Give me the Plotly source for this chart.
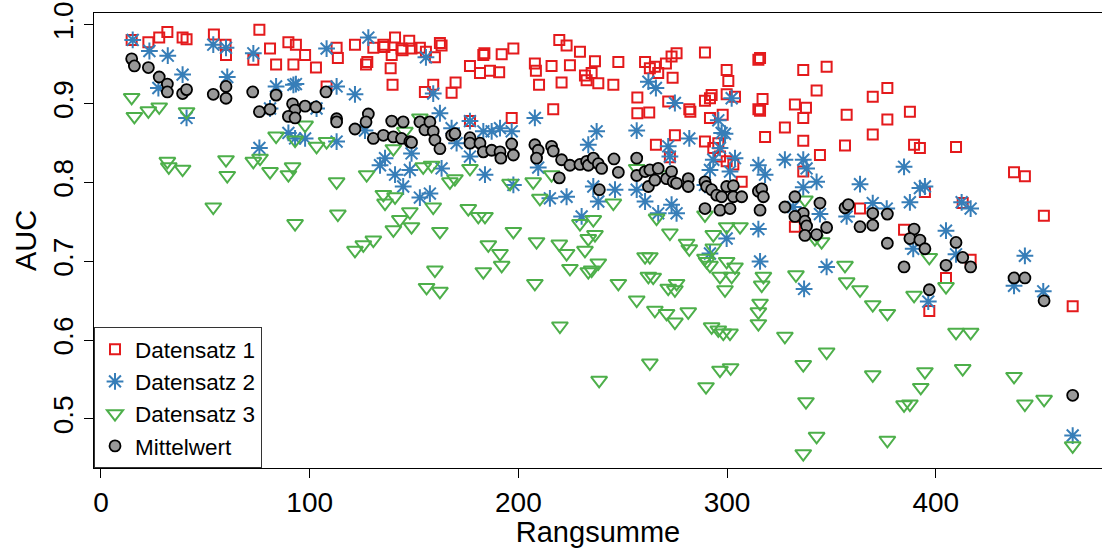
import plotly.graph_objects as go

# ---- Data ----
x_d1 = [14.7, 22.7, 27.9, 31.8, 39.1, 41.0, 54.1, 59.7, 59.9, 73.0, 75.9, 81.0, 83.9, 89.8, 92.2, 93.4, 97.8,
        103.0, 108.1, 112.9, 113.5,
        121.7, 127.0, 127.6, 130.5, 135.3, 135.8, 140.9, 139.3, 144.0, 144.5, 147.7, 148.8, 152.8, 155.7, 160.0,
        162.4, 163.2, 138.8, 139.7, 155.2, 159.2, 168.0, 169.9, 176.8, 181.6, 183.2, 183.7, 186.4, 190.8, 192.0,
        197.6, 196.8, 176.8, 207.9, 208.4, 209.9, 215.9, 216.7, 219.6, 223.1, 220.7, 224.7, 229.5, 231.9, 232.7,
        235.1, 236.7, 238.3,
        245.5, 247.9, 260.7, 263.0, 265.4, 267.0, 270.7, 273.4, 275.8, 273.9, 257.0, 257.0, 262.7, 271.8, 281.9,
        282.4, 289.4, 289.4, 292.6, 291.8, 299.8, 300.6, 299.8, 297.9, 291.8, 303.8, 315.0, 315.8, 315.0, 315.8,
        317.0, 318.2, 327.7, 332.5, 337.8, 336.5, 336.5, 336.5, 342.9, 347.7, 344.5, 336.5, 357.3, 356.5, 275.0,
        265.9, 272.6, 289.4, 293.4, 295.8, 299.8, 303.0, 307.0, 296.6, 332.5,
        369.8, 376.8, 376.8, 369.8, 387.6, 389.6, 392.4, 409.7, 437.5, 442.7, 451.8, 363.7, 384.8, 394.8, 412.9,
        416.7, 404.9, 396.9, 465.6]
y_d1 = [0.981, 0.978, 0.984, 0.991, 0.984, 0.982, 0.988, 0.975, 0.962, 0.956, 0.994, 0.970, 0.950, 0.978, 0.950,
        0.975, 0.962, 0.946, 0.922, 0.971, 0.958,
        0.975, 0.950, 0.953, 0.971, 0.975, 0.972, 0.984, 0.962, 0.970, 0.968, 0.980, 0.970, 0.971, 0.966, 0.959,
        0.977, 0.974, 0.945, 0.924, 0.915, 0.924, 0.914, 0.927, 0.948, 0.939, 0.962, 0.964, 0.942, 0.940, 0.963,
        0.970, 0.882, 0.878, 0.951, 0.942, 0.924, 0.948, 0.893, 0.981, 0.974, 0.927, 0.949, 0.966, 0.936, 0.930,
        0.939, 0.954, 0.926,
        0.924, 0.953, 0.953, 0.945, 0.947, 0.939, 0.951, 0.960, 0.964, 0.933, 0.908, 0.888, 0.889, 0.903, 0.893,
        0.890, 0.965, 0.904, 0.911, 0.907, 0.943, 0.929, 0.912, 0.886, 0.882, 0.909, 0.956, 0.958, 0.893, 0.891,
        0.906, 0.858, 0.870, 0.899, 0.895, 0.882, 0.853, 0.943, 0.917, 0.947, 0.835, 0.814, 0.886, 0.847, 0.860,
        0.848, 0.832, 0.852, 0.844, 0.850, 0.827, 0.823, 0.801, 0.833, 0.744,
        0.909, 0.920, 0.880, 0.861, 0.890, 0.848, 0.844, 0.845, 0.813, 0.808, 0.758, 0.767, 0.740, 0.788, 0.774,
        0.702, 0.679, 0.637, 0.643]

x_d2 = [15.2, 23.2, 32.0, 39.1, 27.5, 41.0, 53.8, 59.9, 60.5, 73.0, 83.9, 92.2, 93.4, 108.1, 112.9, 81.0, 89.8,
        97.8, 93.0, 75.9, 103.3, 112.9,
        128.1, 121.7, 155.7, 159.2, 162.4, 126.5, 136.1, 133.7, 140.9, 144.8, 148.0, 148.8, 152.8, 157.6, 163.2,
        168.0, 170.4, 176.8, 176.8, 184.0, 183.2, 187.2, 191.2, 196.8, 197.6, 207.9, 209.5, 215.1, 223.1, 230.3,
        233.5, 235.9, 237.5, 238.3,
        256.7, 262.3, 265.9, 275.0, 281.9, 271.8, 272.6, 246.3, 256.7, 260.7, 267.0, 273.4, 275.8, 295.8, 297.4,
        299.0, 296.6, 293.4, 291.8, 301.4, 303.8, 302.2, 315.0, 318.2, 315.0, 327.7, 336.5, 338.1, 342.9, 336.5,
        344.5, 331.7, 357.3, 299.8, 289.4, 291.8, 315.8, 336.9, 347.7,
        363.7, 384.8, 369.8, 376.5, 387.6, 392.4, 394.8, 412.4, 416.7, 404.9, 389.2, 409.7, 442.7, 437.5, 451.5,
        396.4, 465.6]
y_d2 = [0.981, 0.967, 0.961, 0.937, 0.920, 0.882, 0.975, 0.971, 0.934, 0.964, 0.922, 0.924, 0.925, 0.970, 0.922,
        0.894, 0.863, 0.856, 0.856, 0.844, 0.894, 0.852,
        0.984, 0.912, 0.959, 0.913, 0.888, 0.866, 0.831, 0.822, 0.810, 0.795, 0.816, 0.837, 0.781, 0.786, 0.818,
        0.869, 0.850, 0.878, 0.833, 0.810, 0.865, 0.865, 0.869, 0.865, 0.797, 0.882, 0.819, 0.780, 0.782, 0.757,
        0.848, 0.795, 0.865, 0.776,
        0.866, 0.928, 0.920, 0.901, 0.856, 0.846, 0.833, 0.791, 0.791, 0.776, 0.761, 0.772, 0.761, 0.879, 0.863,
        0.862, 0.844, 0.829, 0.816, 0.814, 0.831, 0.907, 0.822, 0.810, 0.741, 0.829, 0.829, 0.818, 0.801, 0.794,
        0.760, 0.769, 0.757, 0.729, 0.797, 0.710, 0.700, 0.665, 0.693,
        0.798, 0.820, 0.774, 0.767, 0.775, 0.793, 0.795, 0.775, 0.767, 0.739, 0.716, 0.709, 0.707, 0.669, 0.662,
        0.649, 0.479]

x_d3 = [14.7, 16.0, 22.7, 27.9, 41.0, 31.8, 32.5, 39.1, 59.9, 60.5, 73.0, 76.2, 81.0, 89.8, 91.8, 112.9, 53.8,
        93.0, 113.5, 83.9, 97.8, 93.0, 103.3, 108.1,
        152.8, 145.6, 140.1, 127.3, 135.3, 140.9, 136.1, 154.4, 158.4, 176.8, 167.2, 169.6, 159.2, 148.0, 143.2,
        140.1, 148.8, 162.4, 176.0, 180.8, 184.0, 196.0, 197.6, 207.1, 210.3, 215.9, 229.5, 235.9, 233.5, 130.5,
        125.7, 208.7, 219.6, 185.6, 121.7, 191.2, 192.0, 183.2, 223.1, 231.9, 224.7, 233.5, 238.3, 160.0, 156.0,
        162.4, 207.9, 219.9, 238.7,
        256.7, 245.5, 271.8, 236.7, 266.2, 272.6, 289.4, 299.8, 306.2, 293.4, 280.6, 337.3, 342.1, 235.1, 247.9,
        256.7, 260.7, 263.0, 262.3, 264.6, 271.8, 275.0, 275.8, 265.4, 271.0, 275.0, 281.4, 281.9, 290.2, 291.8,
        289.4, 293.4, 299.8, 303.8, 302.2, 296.6, 299.0, 292.6, 295.8, 298.2, 301.4, 317.4, 316.6, 315.8, 315.0,
        315.0, 327.7, 333.0, 356.5, 357.3, 347.7, 336.5, 263.0, 296.6, 301.7, 289.9, 337.8, 342.9, 336.5, 345.3,
        363.7, 369.8, 376.8, 396.9, 389.6, 404.9, 409.7, 416.7, 369.8, 394.8, 392.8, 384.8, 387.6, 412.9, 437.5,
        442.7, 451.9, 376.8, 465.6]
y_d3 = [0.908, 0.884, 0.891, 0.896, 0.890, 0.827, 0.820, 0.817, 0.829, 0.809, 0.827, 0.831, 0.814, 0.810, 0.820,
        0.801, 0.769, 0.748, 0.760, 0.859, 0.873, 0.854, 0.846, 0.852,
        0.882, 0.865, 0.843, 0.810, 0.785, 0.782, 0.774, 0.820, 0.822, 0.818, 0.801, 0.805, 0.769, 0.763, 0.753,
        0.740, 0.744, 0.738, 0.767, 0.757, 0.757, 0.799, 0.738, 0.801, 0.780, 0.810, 0.748, 0.753, 0.729, 0.727,
        0.721, 0.725, 0.722, 0.721, 0.714, 0.710, 0.695, 0.687, 0.710, 0.714, 0.691, 0.687, 0.698, 0.689, 0.667,
        0.662, 0.672, 0.618, 0.549,
        0.818, 0.774, 0.810, 0.734, 0.755, 0.736, 0.759, 0.744, 0.744, 0.734, 0.723, 0.778, 0.729, 0.689, 0.672,
        0.651, 0.706, 0.706, 0.681, 0.680, 0.666, 0.664, 0.672, 0.638, 0.634, 0.623, 0.636, 0.716, 0.700, 0.695,
        0.704, 0.717, 0.700, 0.693, 0.681, 0.681, 0.664, 0.617, 0.613, 0.609, 0.609, 0.681, 0.670, 0.647, 0.636,
        0.621, 0.605, 0.683, 0.695, 0.674, 0.585, 0.569, 0.571, 0.562, 0.565, 0.541, 0.522, 0.478, 0.456, 0.725,
        0.664, 0.645, 0.634, 0.705, 0.657, 0.668, 0.610, 0.610, 0.556, 0.560, 0.540, 0.518, 0.519, 0.564, 0.554,
        0.519, 0.525, 0.473, 0.466]

x_mean = [14.7, 16.0, 22.7, 27.9, 31.8, 31.8, 39.1, 41.0, 53.8, 59.9, 59.9, 72.7, 83.9, 75.9, 81.0, 91.8, 93.0,
          89.8, 93.0, 97.8, 103.0, 107.8, 112.9, 112.9,
          128.1, 127.0, 121.7, 130.5, 135.3, 139.3, 140.1, 144.0, 144.8, 148.0, 148.8, 152.8, 155.2, 157.6, 159.2,
          160.0, 162.4, 168.0, 169.6, 176.8, 176.8, 181.6, 183.2, 187.2, 191.2, 191.6, 196.8, 197.6, 207.9, 209.5,
          208.7, 215.9, 216.7, 219.6, 220.7, 224.7, 229.5, 232.7, 233.5,
          235.9, 238.3, 239.9, 245.8, 247.9, 238.8, 256.7, 256.7, 260.7, 263.0, 267.0, 262.3, 265.4, 271.0, 273.4,
          274.2, 275.8, 281.4, 281.4, 289.4, 290.2, 292.6, 295.0, 297.4, 299.8, 303.0, 303.0, 307.0, 289.4, 296.6,
          301.4, 315.0, 316.6, 317.4, 315.8, 327.7, 332.5, 336.5, 337.3, 338.1, 332.5, 337.3, 342.9, 344.5, 347.7,
          356.5, 358.1,
          369.8, 369.8, 363.7, 376.8, 389.6, 387.6, 392.4, 376.8, 409.7, 394.8, 412.9, 416.7, 404.9, 384.8, 396.9,
          437.5, 442.7, 451.9, 465.6]
y_mean = [0.957, 0.948, 0.946, 0.934, 0.925, 0.915, 0.913, 0.918, 0.912, 0.922, 0.907, 0.915, 0.911, 0.890, 0.893,
          0.900, 0.892, 0.884, 0.882, 0.897, 0.896, 0.915, 0.881, 0.877,
          0.887, 0.877, 0.868, 0.856, 0.860, 0.878, 0.858, 0.856, 0.877, 0.852, 0.851, 0.877, 0.867, 0.877, 0.865,
          0.854, 0.843, 0.860, 0.862, 0.857, 0.850, 0.850, 0.839, 0.841, 0.839, 0.831, 0.849, 0.835, 0.848, 0.841,
          0.831, 0.846, 0.840, 0.806, 0.829, 0.822, 0.823, 0.827, 0.822,
          0.831, 0.824, 0.818, 0.830, 0.813, 0.791, 0.831, 0.809, 0.814, 0.816, 0.818, 0.795, 0.803, 0.805, 0.814,
          0.801, 0.799, 0.805, 0.795, 0.801, 0.795, 0.791, 0.784, 0.782, 0.795, 0.796, 0.782, 0.782, 0.767, 0.765,
          0.767, 0.789, 0.792, 0.782, 0.765, 0.769, 0.782, 0.761, 0.751, 0.745, 0.757, 0.733, 0.734, 0.774, 0.743,
          0.768, 0.772,
          0.761, 0.746, 0.744, 0.760, 0.741, 0.729, 0.727, 0.723, 0.724, 0.716, 0.705, 0.693, 0.695, 0.693, 0.664,
          0.679, 0.679, 0.650, 0.530]

x_ticks = [0, 100, 200, 300, 400]
y_ticks = [0.5, 0.6, 0.7, 0.8, 0.9, 1.0]
y_tick_labels = ["0.5", "0.6", "0.7", "0.8", "0.9", "1.0"]

FONT = "Liberation Sans, Arial, Helvetica, sans-serif"

fig = go.Figure()
fig.add_trace(go.Scatter(
    x=x_d1, y=y_d1, mode="markers", name="Datensatz 1",
    marker=dict(symbol="square-open", size=10, color="#E41A1C", line=dict(width=2, color="#E41A1C"))))
fig.add_trace(go.Scatter(
    x=x_d2, y=y_d2, mode="markers", name="Datensatz 2",
    marker=dict(symbol="asterisk-open", size=14, color="#377EB8", line=dict(width=2, color="#377EB8"))))
fig.add_trace(go.Scatter(
    x=x_d3, y=y_d3, mode="markers", name="Datensatz 3",
    marker=dict(symbol="triangle-down-open", size=14, color="#4DAF4A", line=dict(width=2, color="#4DAF4A"))))
fig.add_trace(go.Scatter(
    x=x_mean, y=y_mean, mode="markers", name="Mittelwert",
    marker=dict(symbol="circle", size=11, color="#999999", line=dict(width=1.8, color="black"))))

fig.update_layout(
    width=1102, height=548,
    margin=dict(l=94, r=0, t=13, b=80),
    paper_bgcolor="white", plot_bgcolor="white",
    font=dict(family=FONT, color="black"),
    showlegend=True,
    legend=dict(
        x=0, y=0, xanchor="left", yanchor="bottom",
        bgcolor="white", bordercolor="#333333", borderwidth=1,
        font=dict(size=22.5, family=FONT, color="black"),
        itemsizing="trace",
        entrywidth=146, entrywidthmode="pixels",
    ),
    xaxis=dict(
        range=[-3.35, 479.65], tickvals=x_ticks, ticks="outside", ticklen=9, tickwidth=1, tickcolor="black",
        showline=True, linecolor="black", linewidth=1, mirror=True, showgrid=False, zeroline=False,
        tickfont=dict(size=28), title=dict(text="Rangsumme", font=dict(size=29), standoff=6),
    ),
    yaxis=dict(
        range=[0.4378, 1.0152], tickvals=y_ticks, ticktext=y_tick_labels, tickangle=-90,
        ticks="outside", ticklen=9, tickwidth=1, tickcolor="black",
        showline=True, linecolor="black", linewidth=1, mirror=False, showgrid=False, zeroline=False,
        tickfont=dict(size=28), title=dict(text="AUC", font=dict(size=29), standoff=2),
    ),
)

fig.write_html("out.html")
